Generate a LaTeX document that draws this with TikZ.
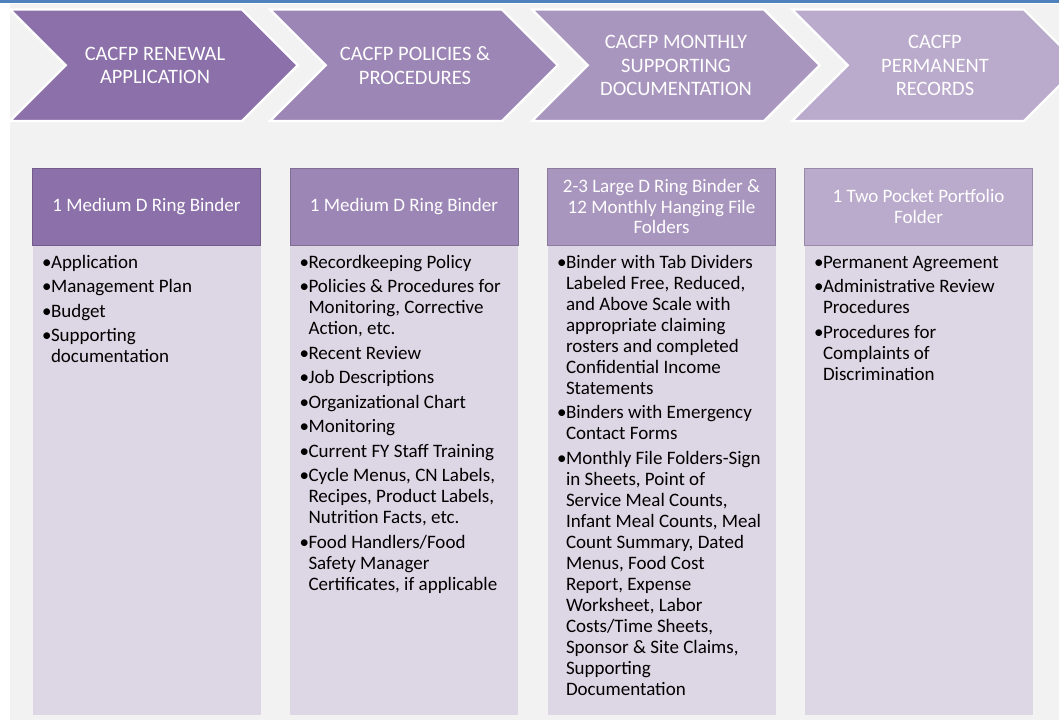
\documentclass[tikz,border=0pt]{standalone}
\usepackage{fontspec}
\setmainfont{Carlito}
\definecolor{barblue}{HTML}{4F81BD}
\definecolor{pagegray}{HTML}{F2F2F2}
\definecolor{stepA}{HTML}{8B70A9}
\definecolor{stepB}{HTML}{9C86B5}
\definecolor{stepC}{HTML}{A996BF}
\definecolor{stepD}{HTML}{BAAACC}
\definecolor{bodyfill}{HTML}{DDD6E4}
\newlength\bulw
\setlength\bulw{8.8pt}
% one bulleted entry with a hanging indent
\newcommand\entry{\par\noindent\hangindent=\bulw\hangafter=1\makebox[\bulw][l]{•}}
\newcommand\bodylist[1]{\begin{minipage}[t]{240pt}\fontsize{19}{21}\selectfont
  \rightskip=0pt plus 1fil\parindent=0pt\parskip=3.5pt #1\par\end{minipage}}
\tikzset{
  chevron/.style={fill=#1, draw=white, line width=2.2pt, line join=miter},
  steptext/.style={text=white, align=center, font=\fontsize{20.5}{23.3}\selectfont},
  headbox/.style={fill=#1, draw=#1!82!black, line width=0.8pt},
  headtext/.style={text=white, align=center, font=\fontsize{19}{20.5}\selectfont},
  bodytext/.style={anchor=base west, inner sep=0pt, text=black},
}
\begin{document}
\begin{tikzpicture}[x=1pt, y=-1pt]
\useasboundingbox (0,0) rectangle (1059,720);
% page ground and top rule
\fill[pagegray] (10,4) rectangle (1059,720);
\fill[barblue] (0,0) rectangle (1059,3);

% process chevrons
\begin{scope}
\clip (0,0) rectangle (1059,720);
\foreach \xo/\col in {10/stepA, 270/stepB, 532/stepC, 792/stepD}{
  \path[chevron=\col] (\xo,9.5) -- ++(232,0) -- ++(55.75,55.75) -- ++(-55.75,55.75)
    -- (\xo,121) -- ++(55.75,-55.75) -- cycle;
}
\end{scope}
\node[steptext] (s1) at (155,65.5) {CACFP RENEWAL\\APPLICATION};
\node[steptext] (s2) at (415,65.5) {CACFP POLICIES \&\\PROCEDURES};
\node[steptext] (s3) at (676,65.5) {CACFP MONTHLY\\SUPPORTING\\DOCUMENTATION};
\node[steptext] (s4) at (935,65.5) {CACFP\\PERMANENT\\RECORDS};

% columns: header and body
\foreach \xo/\col in {32.5/stepA, 290/stepB, 547.5/stepC, 804.5/stepD}{
  \fill[bodyfill] (\xo,245) rectangle ++(228,470);
  \path[headbox=\col] (\xo,168) rectangle ++(228,77);
}
\node[headtext] (h1) at (146.5,206.5) {1 Medium D Ring Binder};
\node[headtext] (h2) at (404,206.5) {1 Medium D Ring Binder};
\node[headtext] (h3) at (661.5,206.5) {2-3 Large D Ring Binder \&\\12 Monthly Hanging File\\Folders};
\node[headtext] (h4) at (918.5,206.5) {1 Two Pocket Portfolio\\Folder};

\node[bodytext] (b1) at (42,268) {\bodylist{%
  \entry Application
  \entry Management Plan
  \entry Budget
  \entry Supporting\\documentation}};

\node[bodytext] (b2) at (299.5,268) {\bodylist{%
  \entry Recordkeeping Policy
  \entry Policies \& Procedures for\\Monitoring, Corrective\\Action, etc.
  \entry Recent Review
  \entry Job Descriptions
  \entry Organizational Chart
  \entry Monitoring
  \entry Current FY Staff Training
  \entry Cycle Menus, CN Labels,\\Recipes, Product Labels,\\Nutrition Facts, etc.
  \entry Food Handlers/Food\\Safety Manager\\Certificates, if applicable}};

\node[bodytext] (b3) at (557,268) {\bodylist{%
  \entry Binder with Tab Dividers\\Labeled Free, Reduced,\\and Above Scale with\\appropriate claiming\\rosters and completed\\Confidential Income\\Statements
  \entry Binders with Emergency\\Contact Forms
  \entry Monthly File Folders-Sign\\in Sheets, Point of\\Service Meal Counts,\\Infant Meal Counts, Meal\\Count Summary, Dated\\Menus, Food Cost\\Report, Expense\\Worksheet, Labor\\Costs/Time Sheets,\\Sponsor \& Site Claims,\\Supporting\\Documentation}};

\node[bodytext] (b4) at (814,268) {\bodylist{%
  \entry Permanent Agreement
  \entry Administrative Review\\Procedures
  \entry Procedures for\\Complaints of\\Discrimination}};
\end{tikzpicture}
\end{document}
